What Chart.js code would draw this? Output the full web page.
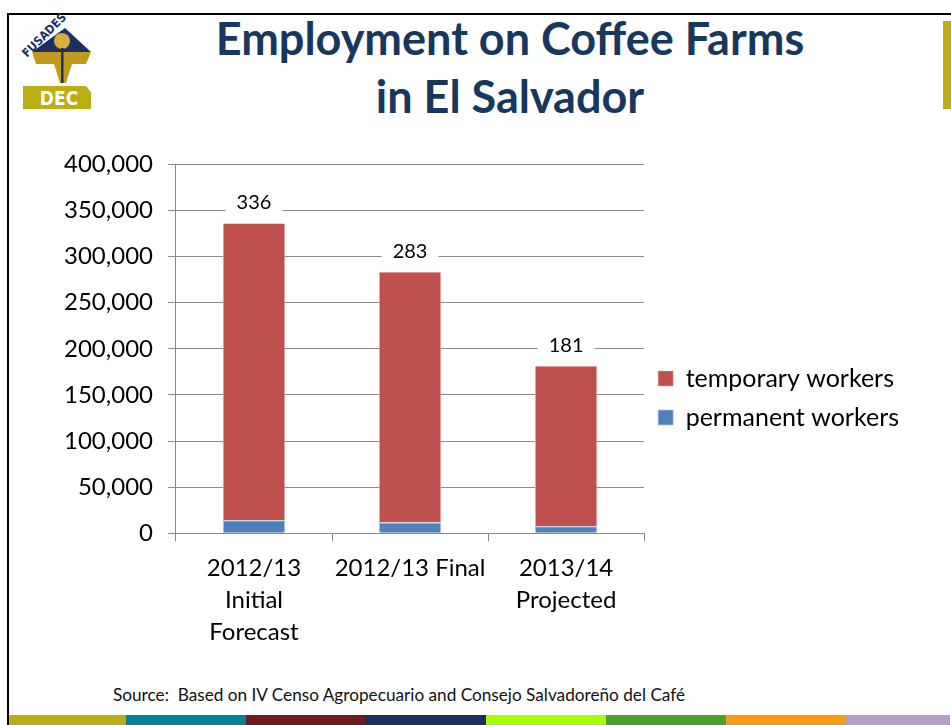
<!DOCTYPE html>
<html>
<head>
<meta charset="utf-8">
<script src="https://cdn.jsdelivr.net/npm/chart.js@4.4.0/dist/chart.umd.min.js"></script>
<style>
  html, body { margin: 0; padding: 0; background: #fff; }
  body { width: 951px; height: 725px; position: relative; overflow: hidden; font-family: Lato, "Open Sans", sans-serif; }
  .frame-top { position: absolute; left: 7px; top: 13px; width: 944px; height: 2px; background: #000; }
  .frame-left { position: absolute; left: 7px; top: 13px; width: 2px; height: 712px; background: #000; }
  .side-bar { position: absolute; left: 943px; top: 21px; width: 8px; height: 88px; background: #bdaf12; }
  .title { position: absolute; left: 160px; top: 9px; width: 700px; text-align: center;
           font: bold 45px/58px Lato, sans-serif; color: #17375e; }
  .source { position: absolute; left: 113px; top: 684px; font: 17.2px Lato, sans-serif; color: #111; white-space: nowrap; }
  .strip { position: absolute; left: 9px; top: 715px; width: 942px; height: 10px; display: flex; }
  .strip div { height: 10px; }
  .chart-box { position: absolute; left: 26px; top: 135px; width: 890px; height: 524px; }
  .logo { position: absolute; left: 0; top: 0; }
</style>
</head>
<body>
<div class="frame-top"></div>
<div class="frame-left"></div>
<div class="side-bar"></div>

<svg class="logo" width="120" height="120" viewBox="0 0 120 120">
  <polygon points="65,28 91,52 32,52" fill="#1b2f63"/>
  <polygon points="32,52 91,52 86,64 72,64 66,83 60,83 54,64 36,64" fill="#c19a1a"/>
  <circle cx="62" cy="41" r="8" fill="#d8b03a"/>
  <rect x="61" y="48" width="2.5" height="35" fill="#1b2f63"/>
  <text x="27" y="58" transform="rotate(-45 27 58)" font-family="'DejaVu Sans Condensed', sans-serif" font-weight="bold"
        font-size="12" fill="#1b2f63">FUSADES</text>
  <polygon points="23,86 86,86 91,92 91,109 23,109" fill="#bcae12"/>
  <text x="59" y="105" text-anchor="middle" font-family="'DejaVu Sans Condensed', sans-serif" font-weight="bold"
        font-size="19" fill="#fff">DEC</text>
</svg>

<div class="title">Employment on Coffee Farms<br>in El Salvador</div>

<div class="chart-box"><canvas id="employmentChart"></canvas></div>

<div class="source">Source:&nbsp; Based on IV Censo Agropecuario and Consejo Salvadoreño del Café</div>

<div class="strip" id="strip"></div>

<script>
const categories = [
    ['2012/13', 'Initial', 'Forecast'],
    ['2012/13 Final'],
    ['2013/14', 'Projected']
];
const permanentWorkers = [14000, 11600, 7600];
const temporaryWorkers = [322000, 271400, 173400];
const yTicks = [0, 50000, 100000, 150000, 200000, 250000, 300000, 350000, 400000];
const stripColors = ['#bcae12', '#077f96', '#701a1e', '#1e2f5f', '#a4ff00', '#4aa22a', '#f99c12', '#b39fc7'];

// bottom colour strip
const strip = document.getElementById('strip');
stripColors.forEach((c, i) => {
    const d = document.createElement('div');
    d.style.background = c;
    d.style.width = (i === 0 ? 117 : i === stripColors.length - 1 ? 104 : 120) + 'px';
    strip.appendChild(d);
});

// total labels (in thousands) above each stacked bar, on a white box
const totalLabels = {
    id: 'totalLabels',
    afterDatasetsDraw(chart) {
        const ctx = chart.ctx;
        const topMeta = chart.getDatasetMeta(1);
        ctx.save();
        ctx.font = '20px Lato, sans-serif';
        ctx.textAlign = 'center';
        ctx.textBaseline = 'middle';
        topMeta.data.forEach((bar, i) => {
            const total = permanentWorkers[i] + temporaryWorkers[i];
            const text = String(Math.round(total / 1000));
            const w = ctx.measureText(text).width + 22;
            const cy = bar.y - 21;
            ctx.fillStyle = '#fff';
            ctx.fillRect(bar.x - w / 2, cy - 14, w, 28);
            ctx.fillStyle = '#000';
            ctx.fillText(text, bar.x, cy);
        });
        ctx.restore();
    }
};

function initChart() {
    const ctx = document.getElementById('employmentChart').getContext('2d');
    Chart.defaults.color = '#000';
    Chart.defaults.font.family = 'Lato, sans-serif';

    new Chart(ctx, {
        type: 'bar',
        data: {
            labels: categories,
            datasets: [
                {
                    label: 'permanent workers',
                    data: permanentWorkers,
                    backgroundColor: '#4f81bd',
                    borderColor: '#a7c0de',
                    borderWidth: { top: 1, left: 1, right: 1, bottom: 0 },
                    borderSkipped: false,
                    categoryPercentage: 1,
                    barPercentage: 0.4
                },
                {
                    label: 'temporary workers',
                    data: temporaryWorkers,
                    backgroundColor: '#c0504d',
                    borderColor: '#dfa8a6',
                    borderWidth: { top: 0, left: 1, right: 1, bottom: 0 },
                    borderSkipped: false,
                    categoryPercentage: 1,
                    barPercentage: 0.4
                }
            ]
        },
        options: {
            responsive: true,
            maintainAspectRatio: false,
            animation: false,
            layout: { padding: { left: 23, top: 2, right: 7, bottom: 0 } },
            plugins: {
                legend: {
                    position: 'right',
                    reverse: true,
                    maxWidth: 320,
                    labels: {
                        boxWidth: 15,
                        boxHeight: 15,
                        padding: 14,
                        font: { size: 25 },
                        color: '#000'
                    }
                },
                tooltip: { enabled: false }
            },
            scales: {
                x: {
                    stacked: true,
                    grid: {
                        offset: true,
                        drawOnChartArea: false,
                        drawTicks: true,
                        tickLength: 8,
                        color: '#8a8a8a'
                    },
                    border: { color: '#8a8a8a' },
                    ticks: {
                        font: { size: 24, lineHeight: 1.33 },
                        padding: 11,
                        maxRotation: 0,
                        autoSkip: false
                    }
                },
                y: {
                    stacked: true,
                    min: 0,
                    max: 400000,
                    afterBuildTicks(axis) {
                        axis.ticks = yTicks.map(v => ({ value: v }));
                    },
                    grid: {
                        color: '#8a8a8a',
                        tickLength: 8
                    },
                    border: { color: '#8a8a8a' },
                    ticks: {
                        font: { size: 24 },
                        padding: 15,
                        callback: v => v.toLocaleString('en-US')
                    }
                }
            }
        },
        plugins: [totalLabels]
    });
}

document.addEventListener('DOMContentLoaded', initChart);
</script>
</body>
</html>
